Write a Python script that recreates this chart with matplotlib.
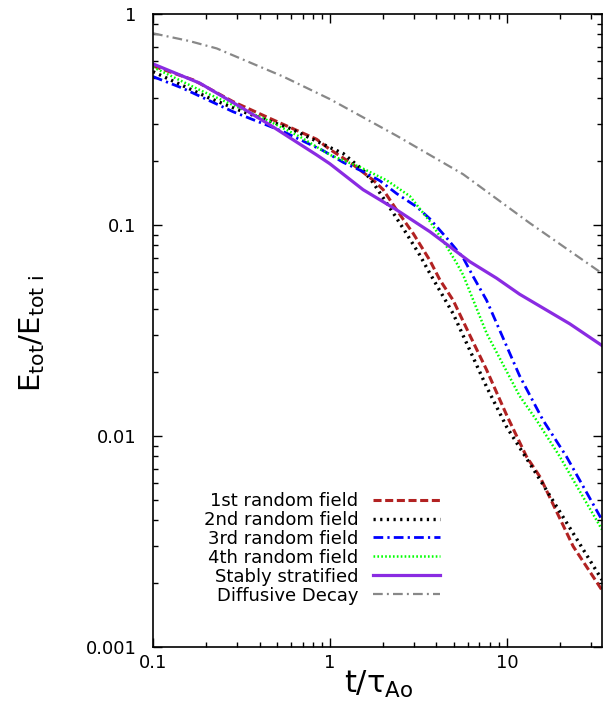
import numpy as np
import matplotlib
matplotlib.use("Agg")
import matplotlib.pyplot as plt
from matplotlib.ticker import FixedLocator, FixedFormatter, LogLocator, NullFormatter

plt.rcParams['font.family'] = ['DejaVu Sans']
plt.rcParams['mathtext.default'] = 'regular'
plt.rcParams['lines.scale_dashes'] = False

# energy decay curves (t in tau_Ao, E normalised)
t_1st = [0.1, 0.169, 0.284, 0.458, 0.84, 1.0, 1.3, 1.76, 2.0, 2.38, 2.96, 3.67,
         4.18, 4.97, 6.18, 7.68, 10, 12.9, 15.4, 23.7, 34.5]
E_1st = [0.567, 0.487, 0.384, 0.32, 0.255, 0.228, 0.198, 0.163, 0.147, 0.118, 0.091,
         0.068, 0.055, 0.044, 0.030, 0.0206, 0.0125, 0.008, 0.0064, 0.003, 0.00186]

t_2nd = [0.1, 0.21, 0.324, 0.594, 1.0, 1.19, 1.54, 1.76, 2.28, 2.71, 3.22, 3.67,
         4.97, 7.68, 10, 15.4, 23.7, 34.5]
E_2nd = [0.533, 0.398, 0.344, 0.287, 0.233, 0.218, 0.182, 0.158, 0.114, 0.091, 0.072,
         0.059, 0.038, 0.0171, 0.011, 0.0062, 0.00346, 0.00208]

t_3rd = [0.1, 0.148, 0.284, 0.545, 0.917, 1.19, 1.54, 1.92, 2.38, 3.09, 3.67, 4.56,
         5.66, 6.45, 7.68, 11.8, 16.0, 21.7, 34.5]
E_3rd = [0.505, 0.444, 0.344, 0.277, 0.225, 0.198, 0.179, 0.162, 0.141, 0.122, 0.107,
         0.087, 0.070, 0.057, 0.044, 0.0193, 0.0119, 0.008, 0.004]

t_4th = [0.1, 0.184, 0.284, 0.439, 0.677, 1.0, 1.48, 2.09, 2.83, 3.67, 4.37, 5.2,
         5.66, 7.68, 11.8, 14.7, 19.9, 23.7, 34.5]
E_4th = [0.56, 0.436, 0.37, 0.315, 0.262, 0.215, 0.188, 0.163, 0.137, 0.104, 0.084,
         0.066, 0.058, 0.0307, 0.0155, 0.0119, 0.008, 0.0062, 0.0036]

t_strat = [0.1, 0.184, 0.31, 0.458, 0.84, 1.0, 1.54, 2.38, 3.67, 6.18, 8.74, 11.8, 22.7, 34.8]
E_strat = [0.58, 0.47, 0.364, 0.298, 0.215, 0.195, 0.147, 0.118, 0.093, 0.067, 0.056,
           0.047, 0.034, 0.0267]

t_diff = [0.1, 0.16, 0.229, 0.545, 1.0, 2.38, 5.66, 13.5, 34.5]
E_diff = [0.81, 0.745, 0.687, 0.505, 0.395, 0.265, 0.174, 0.102, 0.059]

labels = ['1st random field', '2nd random field', '3rd random field',
          '4th random field', 'Stably stratified', 'Diffusive Decay']

x_ticks = [0.1, 1, 10]
x_ticklabels = ['0.1', '1', '10']
y_ticks = [0.001, 0.01, 0.1, 1]
y_ticklabels = ['0.001', '0.01', '0.1', '1']

fig = plt.figure(figsize=(6.03, 7.10), dpi=100)
ax = fig.add_axes([153/603, 63/710, 449/603, 633/710])

ax.plot(t_1st, E_1st, color='#b22222', lw=2.2, dashes=(5.8, 2.6), label=labels[0])
ax.plot(t_2nd, E_2nd, color='black', lw=2.4, dashes=(1.6, 3.2), label=labels[1])
ax.plot(t_3rd, E_3rd, color='#0000ff', lw=2.0, dashes=(7.0, 3.0, 1.6, 3.0), label=labels[2])
ax.plot(t_4th, E_4th, color='#00ff00', lw=1.8, dashes=(1.2, 1.6), label=labels[3])
ax.plot(t_strat, E_strat, color='#8a2be2', lw=2.3, label=labels[4])
ax.plot(t_diff, E_diff, color='#888888', lw=1.6, dashes=(7.0, 3.0, 1.4, 3.0), label=labels[5])

ax.set_xscale('log')
ax.set_yscale('log')
ax.set_xlim(0.1, 34.5)
ax.set_ylim(0.001, 1)

ax.xaxis.set_major_locator(FixedLocator(x_ticks))
ax.xaxis.set_major_formatter(FixedFormatter(x_ticklabels))
ax.yaxis.set_major_locator(FixedLocator(y_ticks))
ax.yaxis.set_major_formatter(FixedFormatter(y_ticklabels))
ax.xaxis.set_minor_locator(LogLocator(base=10, subs=np.arange(2, 10)))
ax.yaxis.set_minor_locator(LogLocator(base=10, subs=np.arange(2, 10)))
ax.xaxis.set_minor_formatter(NullFormatter())
ax.yaxis.set_minor_formatter(NullFormatter())

ax.tick_params(which='both', direction='in', top=True, right=True, width=1.0, labelsize=13)
ax.tick_params(which='major', length=6.5)
ax.tick_params(which='minor', length=3.6)
ax.tick_params(axis='y', which='major', pad=12)
ax.tick_params(axis='x', which='major', pad=5)
for s in ax.spines.values():
    s.set_linewidth(1.2)

ax.set_xlabel(r'$t/\tau_{Ao}$', fontsize=22)
ax.xaxis.set_label_coords(0.502, -0.035)
ax.set_ylabel(r'$E_{tot}/E_{tot\ i}$', fontsize=21)
ax.yaxis.set_label_coords(-0.235, 0.495)

ax.legend(loc='upper right', bbox_to_anchor=((440-153)/449, (647-492)/633),
          frameon=False, markerfirst=False, fontsize=13, handlelength=3.7,
          handletextpad=0.83, labelspacing=0.05, borderpad=0, borderaxespad=0)

plt.savefig('out.png', dpi=100)
